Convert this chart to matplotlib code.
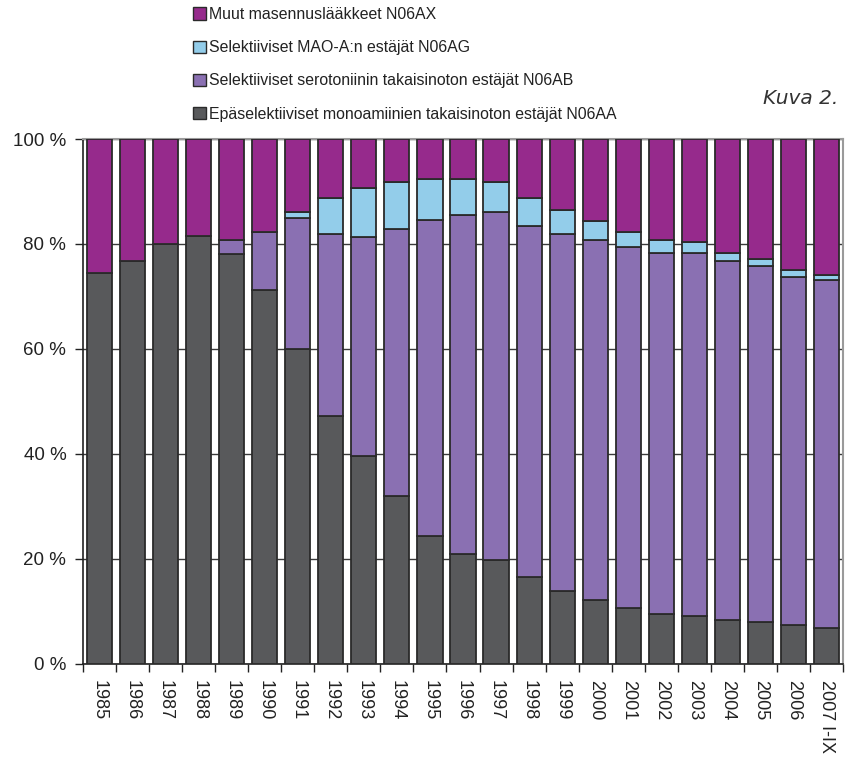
import matplotlib
matplotlib.use("Agg")
import matplotlib.pyplot as plt
from matplotlib.patches import Patch
import numpy as np

plt.rcParams['font.family'] = ['Liberation Sans', 'DejaVu Sans']

years = ["1985", "1986", "1987", "1988", "1989", "1990", "1991", "1992", "1993",
         "1994", "1995", "1996", "1997", "1998", "1999", "2000", "2001", "2002",
         "2003", "2004", "2005", "2006", "2007 I-IX"]

# cumulative tops (percent)
top_aa = [74.5, 76.8, 80.0, 81.6, 78.0, 71.3, 59.9, 47.2, 39.5, 32.0, 24.4, 20.8,
          19.7, 16.4, 13.9, 12.1, 10.6, 9.4, 9.1, 8.2, 7.9, 7.3, 6.7]
top_ab = [74.5, 76.8, 80.0, 81.6, 80.7, 82.2, 84.9, 81.9, 81.3, 82.8, 84.6, 85.5,
          86.1, 83.4, 81.9, 80.7, 79.5, 78.3, 78.3, 76.8, 75.8, 73.7, 73.1]
top_ag = [74.5, 76.8, 80.0, 81.6, 80.7, 82.2, 86.1, 88.8, 90.6, 91.8, 92.4, 92.4,
          91.8, 88.8, 86.4, 84.3, 82.2, 80.7, 80.4, 78.3, 77.1, 75.0, 74.0]

n06aa = np.array(top_aa)
n06ab = np.array(top_ab) - np.array(top_aa)
n06ag = np.array(top_ag) - np.array(top_ab)
n06ax = 100 - np.array(top_ag)

labels = ["Muut masennuslääkkeet N06AX",
          "Selektiiviset MAO-A:n estäjät N06AG",
          "Selektiiviset serotoniinin takaisinoton estäjät N06AB",
          "Epäselektiiviset monoamiinien takaisinoton estäjät N06AA"]
colors = {"ax": "#962a8c", "ag": "#93cdea", "ab": "#8a70b2", "aa": "#58595b"}
edge = "#2a2a2a"

fig = plt.figure(figsize=(8.51, 7.60), dpi=100)
ax = fig.add_axes([83/851, (760-663.5)/760, 760/851, (663.5-139)/760])

x = np.arange(len(years))
w = 0.76
lw = 1.3
ax.bar(x, n06aa, w, color=colors["aa"], edgecolor=edge, linewidth=lw, zorder=3)
ax.bar(x, n06ab, w, bottom=n06aa, color=colors["ab"], edgecolor=edge, linewidth=lw, zorder=3)
ax.bar(x, n06ag, w, bottom=n06aa+n06ab, color=colors["ag"], edgecolor=edge, linewidth=lw, zorder=3)
ax.bar(x, n06ax, w, bottom=n06aa+n06ab+n06ag, color=colors["ax"], edgecolor=edge, linewidth=lw, zorder=3)

ax.set_xlim(-0.5, len(years)-0.5)
ax.set_ylim(0, 100)
ax.set_yticks([0, 20, 40, 60, 80, 100])
ax.set_yticklabels(["0 %", "20 %", "40 %", "60 %", "80 %", "100 %"], fontsize=13.5, color="#222222")
ax.yaxis.grid(True, color="#3a3a3a", linewidth=1.0, zorder=0)
ax.set_axisbelow(True)

ax.set_xticks(x)
ax.set_xticklabels(years, rotation=-90, fontsize=13, va="top", ha="center", color="#222222")
ax.set_xticks(np.arange(-0.5, len(years), 1), minor=True)
ax.tick_params(axis="x", which="major", length=0, pad=12)
ax.tick_params(axis="x", which="minor", length=6, width=1, color="#222222")
ax.tick_params(axis="y", length=6, width=1, color="#222222", pad=6)

for s in ["left", "bottom"]:
    ax.spines[s].set_color("#222222")
    ax.spines[s].set_linewidth(1.2)
for s in ["top", "right"]:
    ax.spines[s].set_color("#9a9a9a")
    ax.spines[s].set_linewidth(1.5)

handles = [Patch(facecolor=colors[k], edgecolor=edge, linewidth=1.0) for k in ["ax", "ag", "ab", "aa"]]
fig.legend(handles, labels, loc="upper left", bbox_to_anchor=(193/851, 1-7/760),
           frameon=False, fontsize=11.4, handlelength=0.8, handleheight=0.8,
           handletextpad=0.2, labelspacing=1.15, borderpad=0, borderaxespad=0,
           labelcolor="#222222")

fig.text(838/851, 1-98/760, "Kuva 2.", fontsize=14.5, style="italic",
         family=["DejaVu Sans"], color="#333333", ha="right", va="center")

fig.savefig("out.png", dpi=100)
